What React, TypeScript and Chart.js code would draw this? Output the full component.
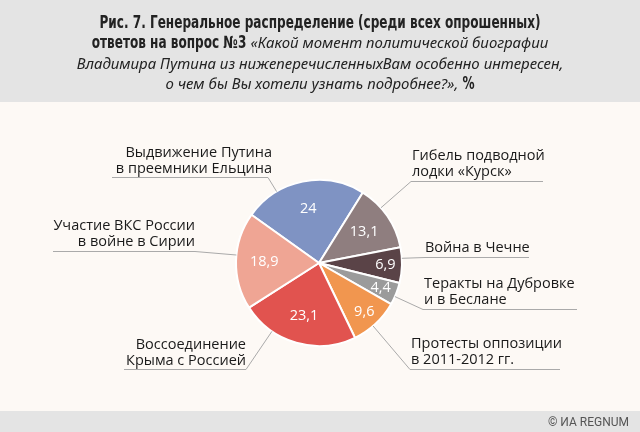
import React, { useEffect, useRef } from "react";
import { Chart, registerables } from "chart.js";
Chart.register(...registerables);

const categories: string[][] = [
  ["Выдвижение Путина", "в преемники Ельцина"],
  ["Гибель подводной", "лодки «Курск»"],
  ["Война в Чечне"],
  ["Теракты на Дубровке", "и в Беслане"],
  ["Протесты оппозиции", "в 2011-2012 гг."],
  ["Воссоединение", "Крыма с Россией"],
  ["Участие ВКС России", "в войне в Сирии"],
];
const values = [24, 13.1, 6.9, 4.4, 9.6, 23.1, 18.9];
const colors = ["#7f93c3", "#8f7e7f", "#5a4347", "#9b9b9b", "#f1964f", "#e1534f", "#efa594"];

const titleLines: { text: string; bold: boolean }[][] = [
  [{ text: "Рис. 7. Генеральное распределение (среди всех опрошенных)", bold: true }],
  [
    { text: "ответов на вопрос №3 ", bold: true },
    { text: "«Какой момент политической биографии", bold: false },
  ],
  [{ text: "Владимира Путина из нижеперечисленныхВам особенно интересен,", bold: false }],
  [
    { text: "о чем бы Вы хотели узнать подробнее?»,", bold: false },
    { text: " %", bold: true },
  ],
];
const footerText = "© ИА REGNUM";

// label layout: side, text anchor x, first baseline, underline y, underline far end x, elbow x
const labelLayout = [
  { side: "left", tx: 272, by: 157, ly: 177, far: 112, elbow: 268 },
  { side: "right", tx: 412, by: 160, ly: 181, far: 543, elbow: 411 },
  { side: "right", tx: 425, by: 252, ly: 257, far: 529, elbow: 425 },
  { side: "right", tx: 424, by: 288, ly: 309, far: 577, elbow: 423 },
  { side: "right", tx: 411, by: 348, ly: 369, far: 560, elbow: 410 },
  { side: "left", tx: 246, by: 349, ly: 369, far: 124, elbow: 246 },
  { side: "left", tx: 195, by: 230, ly: 251, far: 53, elbow: 195 },
];

const BOLD_FONT = "bold 17px 'DejaVu Sans Condensed', 'Liberation Sans', sans-serif";
const ITALIC_FONT = "italic 15px 'Noto Sans', sans-serif";
const LABEL_FONT = "14.5px 'Open Sans', sans-serif";
const VALUE_FONT = "14.5px 'Open Sans', sans-serif";
const TITLE_LINE1_WIDTH = 441;

const decorPlugin = {
  id: "decor",
  beforeDraw(chart: any) {
    const ctx = chart.ctx;
    const W = chart.width;
    const H = chart.height;
    ctx.save();
    ctx.fillStyle = "#fdf9f5";
    ctx.fillRect(0, 0, W, H);
    ctx.fillStyle = "#e4e4e4";
    ctx.fillRect(0, 0, W, 102);
    ctx.fillRect(0, 411, W, H - 411);
    // title
    ctx.fillStyle = "#222";
    ctx.textBaseline = "alphabetic";
    ctx.textAlign = "left";
    ctx.font = BOLD_FONT;
    const k = TITLE_LINE1_WIDTH / ctx.measureText(titleLines[0][0].text).width;
    const baselines = [28, 48, 68.5, 89];
    titleLines.forEach((segs, i) => {
      let total = 0;
      const widths = segs.map((s) => {
        ctx.font = s.bold ? BOLD_FONT : ITALIC_FONT;
        const w = ctx.measureText(s.text).width * (s.bold ? k : 1);
        total += w;
        return w;
      });
      let x = 320 - total / 2;
      segs.forEach((s, j) => {
        ctx.font = s.bold ? BOLD_FONT : ITALIC_FONT;
        if (s.bold) {
          ctx.save();
          ctx.translate(x, baselines[i]);
          ctx.scale(k, 1);
          ctx.fillText(s.text, 0, 0);
          ctx.restore();
        } else {
          ctx.fillText(s.text, x, baselines[i]);
        }
        x += widths[j];
      });
    });
    // footer
    ctx.font = "12px 'Roboto', sans-serif";
    ctx.fillStyle = "#555";
    ctx.textAlign = "right";
    ctx.fillText(footerText, 629, 426);
    ctx.restore();
  },
  afterDatasetsDraw(chart: any) {
    const ctx = chart.ctx;
    const arcs = chart.getDatasetMeta(0).data;
    ctx.save();
    arcs.forEach((arc: any, i: number) => {
      const { x, y, startAngle, endAngle, outerRadius } = arc.getProps(
        ["x", "y", "startAngle", "endAngle", "outerRadius"],
        true
      );
      // value label
      const mid = (startAngle + endAngle) / 2;
      const frac = values[i] < 10 ? 0.8 : 0.66;
      const vx = x + Math.cos(mid) * outerRadius * frac;
      const vy = y + Math.sin(mid) * outerRadius * frac;
      ctx.font = VALUE_FONT;
      ctx.fillStyle = "#ffffff";
      ctx.textAlign = "center";
      ctx.textBaseline = "middle";
      ctx.fillText(String(values[i]).replace(".", ","), vx, vy);

      // category label
      const L = labelLayout[i];
      ctx.fillStyle = "#1a1a1a";
      ctx.font = LABEL_FONT;
      ctx.textBaseline = "alphabetic";
      ctx.textAlign = L.side === "left" ? "right" : "left";
      categories[i].forEach((line, kk) => {
        ctx.fillText(line, L.tx, L.by + kk * 15.5);
      });
      // leader
      const dx = L.elbow - x;
      const dy = L.ly - y;
      const d = Math.hypot(dx, dy);
      const ax = x + (dx / d) * outerRadius;
      const ay = y + (dy / d) * outerRadius;
      ctx.strokeStyle = "#aaaaaa";
      ctx.lineWidth = 1;
      ctx.beginPath();
      ctx.moveTo(L.far, L.ly + 0.5);
      ctx.lineTo(L.elbow, L.ly + 0.5);
      ctx.lineTo(ax, ay);
      ctx.stroke();
    });
    ctx.restore();
  },
};

export default function App() {
  const ref = useRef<HTMLCanvasElement>(null);
  useEffect(() => {
    document.body.style.margin = "0";
    const canvas = ref.current!;
    const chart = new Chart(canvas, {
      type: "pie",
      data: {
        labels: categories.map((c) => c.join(" ")),
        datasets: [
          {
            data: values,
            backgroundColor: colors,
            borderColor: "#ffffff",
            borderWidth: 2,
          },
        ],
      },
      options: {
        responsive: false,
        animation: false,
        rotation: -54.5,
        layout: { padding: { left: 235, right: 237, top: 179, bottom: 85 } },
        plugins: {
          legend: { display: false },
          tooltip: { enabled: false },
          title: { display: false },
        },
      },
      plugins: [decorPlugin],
    });
    return () => chart.destroy();
  }, []);
  return (
    <div style={{ width: 640, height: 432 }}>
      <canvas ref={ref} width={640} height={432} style={{ display: "block" }} />
    </div>
  );
}
